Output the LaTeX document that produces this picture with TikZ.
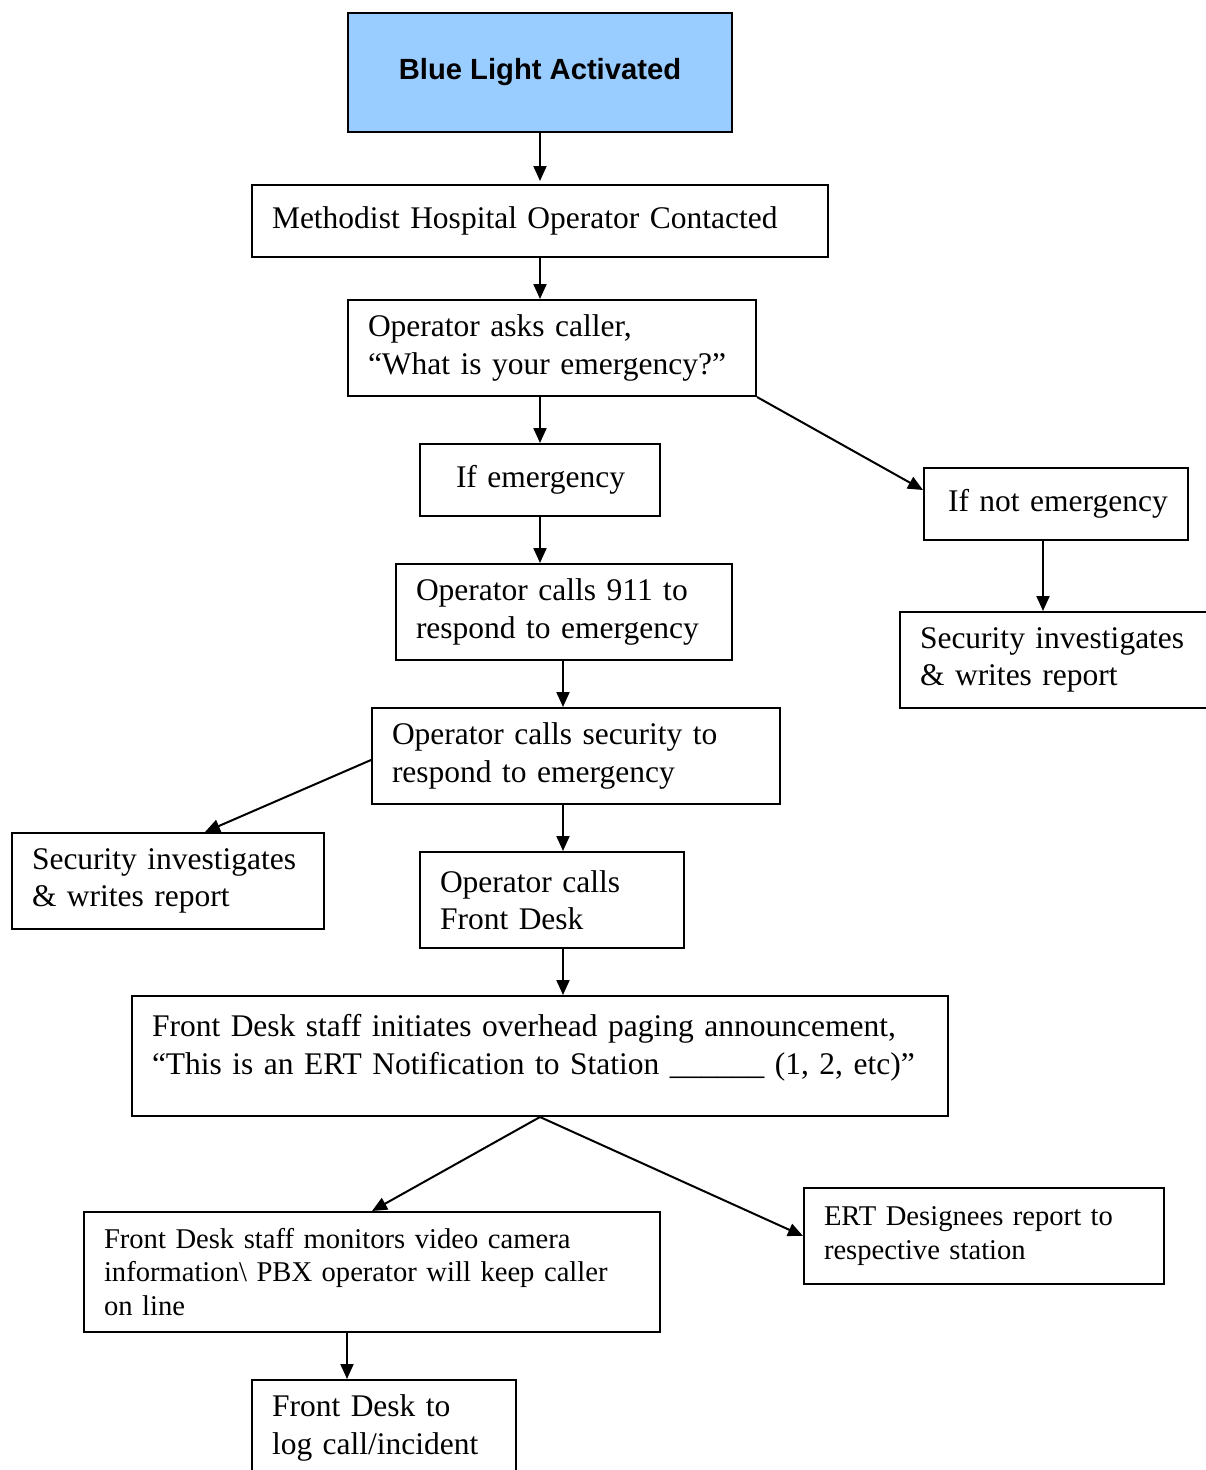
\documentclass[tikz,border=0pt]{standalone}
\usepackage{fontspec}
\setmainfont{Liberation Serif}
\setsansfont{Liberation Sans}
\usetikzlibrary{arrows.meta,calc}
\definecolor{lightblue}{HTML}{99CCFF}
\begin{document}
\begin{tikzpicture}[x=1pt,y=-1pt,
  box/.style={draw, line width=2pt, anchor=north west, inner xsep=20pt, inner ysep=0pt,
    align=left, font=\fontsize{31.5}{37.5}\selectfont},
  smallbox/.style={box, font=\fontsize{28.6}{33.5}\selectfont},
  arr/.style={line width=2pt, -{Triangle[length=15pt,width=13pt]}}]
\clip (0,0) rectangle (1206,1470);
\useasboundingbox (0,0) rectangle (1206,1470);

\node[box, fill=lightblue, minimum width=384pt, minimum height=119pt, align=center,
  font=\fontsize{29.2}{34}\selectfont\sffamily\bfseries] (b1) at (347,12) {\raisebox{-3pt}{Blue Light Activated}};
\node[box, minimum width=576pt, minimum height=72pt, text width=536pt] (b2) at (251,184)
  {\mbox{\raisebox{2pt}{Methodist Hospital Operator Contacted}}};
\node[box, minimum width=408pt, minimum height=96pt, text width=368pt] (b3) at (347,299)
  {\mbox{Operator asks caller,}\\\mbox{“What is your emergency?”}};
\node[box, minimum width=240pt, minimum height=72pt, text width=200pt] (b4) at (419,443)
  {\mbox{\hspace{16pt}\raisebox{5pt}{If emergency}}};
\node[box, minimum width=264pt, minimum height=72pt, text width=224pt] (b5) at (923,467)
  {\mbox{\hspace{4pt}\raisebox{4pt}{If not emergency}}};
\node[box, minimum width=330pt, minimum height=96pt, text width=290pt] (b6) at (899,611)
  {\mbox{Security investigates}\\\mbox{\& writes report}};
\node[box, minimum width=336pt, minimum height=96pt, text width=296pt] (b7) at (395,563)
  {\mbox{Operator calls 911 to}\\\mbox{respond to emergency}};
\node[box, minimum width=408pt, minimum height=96pt, text width=368pt] (b8) at (371,707)
  {\mbox{Operator calls security to}\\\mbox{respond to emergency}};
\node[box, minimum width=312pt, minimum height=96pt, text width=272pt] (b9) at (11,832)
  {\mbox{Security investigates}\\\mbox{\& writes report}};
\node[box, minimum width=264pt, minimum height=96pt, text width=224pt] (b10) at (419,851)
  {\mbox{Operator calls}\\\mbox{Front Desk}};
\node[box, minimum width=816pt, minimum height=120pt, text width=776pt] (b11) at (131,995)
  {\mbox{Front Desk staff initiates overhead paging announcement,}\\
   \mbox{“This is an ERT Notification to Station \_\_\_\_\_\_ (1, 2, etc)”}\\[-14pt]\mbox{}};
\node[smallbox, minimum width=576pt, minimum height=120pt, text width=536pt] (b12) at (83,1211)
  {\mbox{Front Desk staff monitors video camera}\\
   \mbox{information\textbackslash{} PBX operator will keep caller}\\\mbox{on line}};
\node[smallbox, minimum width=360pt, minimum height=96pt, text width=320pt] (b13) at (803,1187)
  {\mbox{ERT Designees report to}\\\mbox{respective station}};
\node[box, minimum width=264pt, minimum height=96pt, text width=224pt] (b14) at (251,1379)
  {\mbox{Front Desk to}\\\mbox{log call/incident}};

\coordinate (x1043) at (1043,0);
\coordinate (x563) at (563,0);
\coordinate (x347) at (347,0);

\draw[arr, shorten >=3pt] (b1.south) -- (b2.north);
\draw[arr] (b2.south) -- (b2.south |- b3.north);
\draw[arr] (b4.north |- b3.south) -- (b4.north);
\draw[arr] (b3.south east) -- ($(b5.north west)+(0,23)$);
\draw[arr] (b4.south) -- (b4.south |- b7.north);
\draw[arr] (x1043 |- b5.south) -- (x1043 |- b6.north);
\draw[arr] (x563 |- b7.south) -- (x563 |- b8.north);
\draw[arr] ($(b8.north west)+(0,53)$) -- ($(b9.north west)+(194,0)$);
\draw[arr] (x563 |- b8.south) -- (x563 |- b10.north);
\draw[arr] (x563 |- b10.south) -- (x563 |- b11.north);
\draw[arr] (b11.south) -- (b12.north);
\draw[arr] (b11.south) -- (b13.west);
\draw[arr] (x347 |- b12.south) -- (x347 |- b14.north);
\end{tikzpicture}
\end{document}
